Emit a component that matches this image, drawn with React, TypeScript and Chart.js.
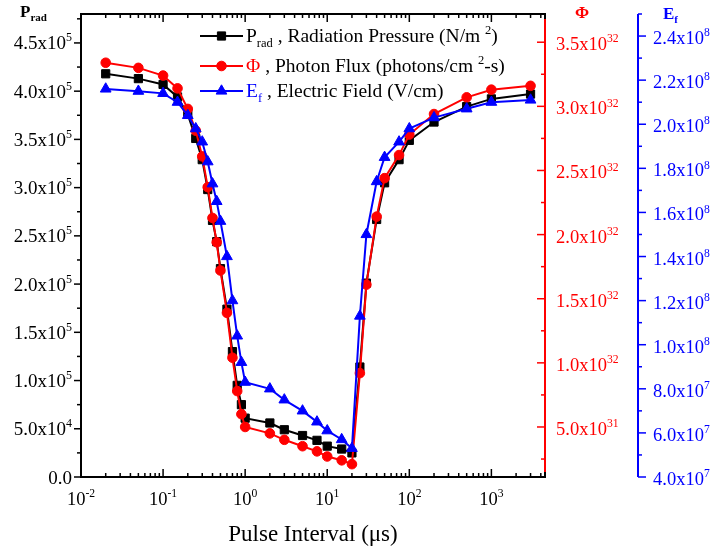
import React, { useEffect, useRef } from 'react';
import { Chart, registerables } from 'chart.js';

Chart.register(...registerables);

// ---------------- data ----------------
const pulseInterval = [0.02, 0.05, 0.1, 0.15, 0.2, 0.25, 0.3, 0.35, 0.4, 0.45, 0.5, 0.6, 0.7, 0.8, 0.9, 1, 2, 3, 5, 7.5, 10, 15, 20, 25, 30, 40, 50, 75, 100, 200, 500, 1000, 3000];
const radiationPressure = [4.18e5, 4.13e5, 4.07e5, 3.94e5, 3.76e5, 3.51e5, 3.29e5, 2.98e5, 2.66e5, 2.44e5, 2.16e5, 1.74e5, 1.30e5, 0.95e5, 0.75e5, 0.61e5, 0.56e5, 0.49e5, 0.43e5, 0.38e5, 0.32e5, 0.29e5, 0.25e5, 1.14e5, 2.01e5, 2.67e5, 3.05e5, 3.29e5, 3.49e5, 3.68e5, 3.84e5, 3.92e5, 3.97e5];
const photonFlux = [3.34e32, 3.30e32, 3.24e32, 3.14e32, 2.98e32, 2.81e32, 2.61e32, 2.37e32, 2.13e32, 1.94e32, 1.72e32, 1.39e32, 1.04e32, 0.78e32, 0.60e32, 0.50e32, 0.45e32, 0.40e32, 0.35e32, 0.31e32, 0.27e32, 0.24e32, 0.21e32, 0.92e32, 1.61e32, 2.14e32, 2.44e32, 2.62e32, 2.78e32, 2.94e32, 3.07e32, 3.13e32, 3.16e32];
const electricField = [2.16e8, 2.15e8, 2.14e8, 2.10e8, 2.04e8, 1.98e8, 1.92e8, 1.83e8, 1.73e8, 1.65e8, 1.56e8, 1.40e8, 1.20e8, 1.04e8, 0.92e8, 0.83e8, 0.80e8, 0.75e8, 0.70e8, 0.65e8, 0.61e8, 0.57e8, 0.53e8, 1.13e8, 1.50e8, 1.74e8, 1.85e8, 1.92e8, 1.98e8, 2.03e8, 2.07e8, 2.10e8, 2.11e8];

// ---------------- ticks ----------------
const xTickValues = [0.01, 0.1, 1, 10, 100, 1000];
const xTickLabels = ['10^-2', '10^-1', '10^0', '10^1', '10^2', '10^3'];
const leftTickValues = [0, 0.5e5, 1.0e5, 1.5e5, 2.0e5, 2.5e5, 3.0e5, 3.5e5, 4.0e5, 4.5e5];
const leftTickLabels = ['0.0', '5.0x10^4', '1.0x10^5', '1.5x10^5', '2.0x10^5', '2.5x10^5', '3.0x10^5', '3.5x10^5', '4.0x10^5', '4.5x10^5'];
const redTickValues = [0.5e32, 1.0e32, 1.5e32, 2.0e32, 2.5e32, 3.0e32, 3.5e32];
const redTickLabels = ['5.0x10^31', '1.0x10^32', '1.5x10^32', '2.0x10^32', '2.5x10^32', '3.0x10^32', '3.5x10^32'];
const blueTickValues = [4e7, 6e7, 8e7, 1.0e8, 1.2e8, 1.4e8, 1.6e8, 1.8e8, 2.0e8, 2.2e8, 2.4e8];
const blueTickLabels = ['4.0x10^7', '6.0x10^7', '8.0x10^7', '1.0x10^8', '1.2x10^8', '1.4x10^8', '1.6x10^8', '1.8x10^8', '2.0x10^8', '2.2x10^8', '2.4x10^8'];

const FONT = "'Liberation Serif', 'Times New Roman', 'DejaVu Serif', serif";
const RED = '#ff0000';
const BLUE = '#0000ff';

type Part = { t: string; s: number; dy?: number; c?: string; b?: boolean };

function drawRich(ctx: CanvasRenderingContext2D, parts: Part[], x: number, y: number, align: 'left' | 'right' | 'center', color: string) {
  let total = 0;
  const widths = parts.map((p) => {
    ctx.font = `${p.b ? 'bold ' : ''}${p.s}px ${FONT}`;
    const w = ctx.measureText(p.t).width;
    total += w;
    return w;
  });
  let cx = align === 'left' ? x : align === 'right' ? x - total : x - total / 2;
  ctx.textAlign = 'left';
  ctx.textBaseline = 'alphabetic';
  parts.forEach((p, i) => {
    ctx.font = `${p.b ? 'bold ' : ''}${p.s}px ${FONT}`;
    ctx.fillStyle = p.c || color;
    ctx.fillText(p.t, cx, y + (p.dy || 0));
    cx += widths[i];
  });
}

function labelParts(label: string, size: number): Part[] {
  const [base, sup] = label.split('^');
  const parts: Part[] = [{ t: base, s: size }];
  if (sup !== undefined) parts.push({ t: sup, s: size * 0.63, dy: -size * 0.42 });
  return parts;
}

function line(ctx: CanvasRenderingContext2D, x1: number, y1: number, x2: number, y2: number) {
  ctx.beginPath();
  ctx.moveTo(x1, y1);
  ctx.lineTo(x2, y2);
  ctx.stroke();
}

function marker(ctx: CanvasRenderingContext2D, style: string, x: number, y: number, color: string) {
  ctx.fillStyle = color;
  ctx.strokeStyle = color;
  ctx.lineWidth = 1;
  ctx.beginPath();
  if (style === 'rect') {
    const s = 5.8 * Math.SQRT1_2;
    ctx.rect(x - s, y - s, 2 * s, 2 * s);
  } else if (style === 'circle') {
    ctx.arc(x, y, 4.8, 0, Math.PI * 2);
  } else {
    const r = 6.2;
    let a = 0;
    ctx.moveTo(x + Math.sin(a) * r, y - Math.cos(a) * r);
    a += (2 * Math.PI) / 3;
    ctx.lineTo(x + Math.sin(a) * r, y - Math.cos(a) * r);
    a += (2 * Math.PI) / 3;
    ctx.lineTo(x + Math.sin(a) * r, y - Math.cos(a) * r);
    ctx.closePath();
  }
  ctx.fill();
  ctx.stroke();
}

const axesPlugin = {
  id: 'customAxes',
  afterDraw(chart: any) {
    const ctx: CanvasRenderingContext2D = chart.ctx;
    const { left, right, top, bottom } = chart.chartArea;
    const xs = chart.scales.x;
    const yl = chart.scales.y;
    const yr = chart.scales.y1;
    const yb = chart.scales.y2;
    const blueX = 638;
    ctx.save();
    ctx.lineCap = 'butt';

    // ---- frame ----
    ctx.strokeStyle = '#000';
    ctx.lineWidth = 2;
    line(ctx, left, top - 1, left, bottom + 1);
    line(ctx, left - 1, bottom, right, bottom);
    line(ctx, left - 1, top, right + 1, top);
    ctx.strokeStyle = RED;
    line(ctx, right, top + 1, right, bottom - 1);
    ctx.strokeStyle = '#000';
    line(ctx, right, top, right, top + 5);
    line(ctx, right, bottom - 5, right, bottom);
    line(ctx, right - 6, bottom, right + 1, bottom);
    ctx.strokeStyle = BLUE;
    line(ctx, blueX, top, blueX, bottom);

    // ---- x ticks (bottom & top, inward) ----
    ctx.strokeStyle = '#000';
    ctx.lineWidth = 1.5;
    for (let e = -2; e <= 3; e++) {
      for (let m = 1; m <= 9; m++) {
        const v = m * Math.pow(10, e);
        if (v > xs.max) continue;
        const px = xs.getPixelForValue(v);
        const len = m === 1 ? 8 : 4;
        line(ctx, px, bottom, px, bottom - len);
        line(ctx, px, top, px, top + len);
      }
    }
    xTickValues.forEach((v, i) => {
      const px = xs.getPixelForValue(v);
      drawRich(ctx, labelParts(xTickLabels[i], 18.5), px, 505, 'center', '#000');
    });

    // ---- left axis ----
    ctx.strokeStyle = '#000';
    for (let v = 0; v <= yl.max; v += 0.25e5) {
      const py = yl.getPixelForValue(v);
      const major = Math.round(v / 0.25e5) % 2 === 0;
      line(ctx, left - (major ? 7 : 4), py, left, py);
    }
    leftTickValues.forEach((v, i) => {
      const py = yl.getPixelForValue(v);
      drawRich(ctx, labelParts(leftTickLabels[i], 19), 72, py + 6.5, 'right', '#000');
    });

    // ---- red axis (ticks inward) ----
    ctx.strokeStyle = RED;
    for (let k = 1; k * 0.25e32 <= yr.max; k++) {
      const v = k * 0.25e32;
      if (v < yr.min) continue;
      const py = yr.getPixelForValue(v);
      line(ctx, right - (k % 2 === 0 ? 8 : 4), py, right, py);
    }
    redTickValues.forEach((v, i) => {
      const py = yr.getPixelForValue(v);
      drawRich(ctx, labelParts(redTickLabels[i], 18.5), 556, py + 8, 'left', RED);
    });

    // ---- blue axis (ticks outward) ----
    ctx.strokeStyle = BLUE;
    for (let k = 4; k * 1e7 <= yb.max; k++) {
      const v = k * 1e7;
      const py = yb.getPixelForValue(v);
      line(ctx, blueX, py, blueX + (k % 2 === 0 ? 8 : 4), py);
    }
    blueTickValues.forEach((v, i) => {
      const py = yb.getPixelForValue(v);
      drawRich(ctx, labelParts(blueTickLabels[i], 18.5), 653, py + 8, 'left', BLUE);
    });

    // ---- axis titles ----
    drawRich(ctx, [{ t: 'P', s: 17, b: true }, { t: 'rad', s: 11, b: true, dy: 4 }], 20, 17, 'left', '#000');
    drawRich(ctx, [{ t: 'Φ', s: 17, b: true }], 582, 18, 'center', RED);
    drawRich(ctx, [{ t: 'E', s: 17, b: true }, { t: 'f', s: 11, b: true, dy: 4 }], 663, 19, 'left', BLUE);
    drawRich(ctx, [{ t: 'Pulse Interval (μs)', s: 23 }], (left + right) / 2, 541, 'center', '#000');

    // ---- legend ----
    const L = 19.5;
    const S = 12.5;
    const rows = [
      { y: 36, color: '#000', style: 'rect', parts: [{ t: 'P', s: L }, { t: 'rad', s: S, dy: 5 }, { t: ' , Radiation Pressure (N/m ', s: L }, { t: '2', s: S, dy: -8 }, { t: ')', s: L }] as Part[] },
      { y: 66, color: RED, style: 'circle', parts: [{ t: 'Φ', s: L, c: RED }, { t: ' , Photon Flux (photons/cm ', s: L }, { t: '2', s: S, dy: -8 }, { t: '-s)', s: L }] as Part[] },
      { y: 91, color: BLUE, style: 'triangle', parts: [{ t: 'E', s: L, c: BLUE }, { t: 'f', s: S, dy: 5, c: BLUE }, { t: ' , Electric Field (V/cm)', s: L }] as Part[] },
    ];
    rows.forEach((r) => {
      ctx.strokeStyle = r.color;
      ctx.lineWidth = 2;
      line(ctx, 200, r.y, 243, r.y);
      marker(ctx, r.style, 221.5, r.y, r.color);
      drawRich(ctx, r.parts, 246, r.y + 6, 'left', '#000');
    });

    ctx.restore();
  },
};

export default function App() {
  const ref = useRef<HTMLCanvasElement>(null);
  useEffect(() => {
    const mk = (ys: number[]) => pulseInterval.map((x, i) => ({ x, y: ys[i] }));
    const chart = new Chart(ref.current as HTMLCanvasElement, {
      type: 'line',
      data: {
        datasets: [
          {
            label: 'Prad , Radiation Pressure (N/m2)',
            data: mk(radiationPressure),
            yAxisID: 'y',
            borderColor: '#000',
            backgroundColor: '#000',
            pointStyle: 'rect',
            pointRadius: 5.8,
            pointBorderWidth: 1,
            borderWidth: 2,
            order: 3,
          },
          {
            label: 'Φ , Photon Flux (photons/cm2-s)',
            data: mk(photonFlux),
            yAxisID: 'y1',
            borderColor: RED,
            backgroundColor: RED,
            pointStyle: 'circle',
            pointRadius: 4.8,
            pointBorderWidth: 1,
            borderWidth: 2,
            order: 2,
          },
          {
            label: 'Ef , Electric Field (V/cm)',
            data: mk(electricField),
            yAxisID: 'y2',
            borderColor: BLUE,
            backgroundColor: BLUE,
            pointStyle: 'triangle',
            pointRadius: 6.2,
            pointBorderWidth: 1,
            borderWidth: 2,
            order: 1,
          },
        ],
      },
      options: {
        responsive: false,
        animation: false,
        devicePixelRatio: 1,
        layout: { padding: { left: 81, right: 169, top: 14, bottom: 75 } },
        scales: {
          x: { type: 'logarithmic', min: 0.01, max: 4500, display: false },
          y: { type: 'linear', min: 0, max: 4.8e5, display: false },
          y1: { type: 'linear', min: 1.1e31, max: 3.72e32, display: false },
          y2: { type: 'linear', min: 4e7, max: 2.5e8, display: false },
        },
        plugins: { legend: { display: false }, tooltip: { enabled: false }, title: { display: false } },
      },
      plugins: [axesPlugin],
    } as any);
    return () => chart.destroy();
  }, []);
  return (
    <div style={{ position: 'fixed', left: 0, top: 0, width: 714, height: 552, background: '#fff' }}>
      <canvas ref={ref} width={714} height={552} style={{ display: 'block', width: 714, height: 552 }} />
    </div>
  );
}
